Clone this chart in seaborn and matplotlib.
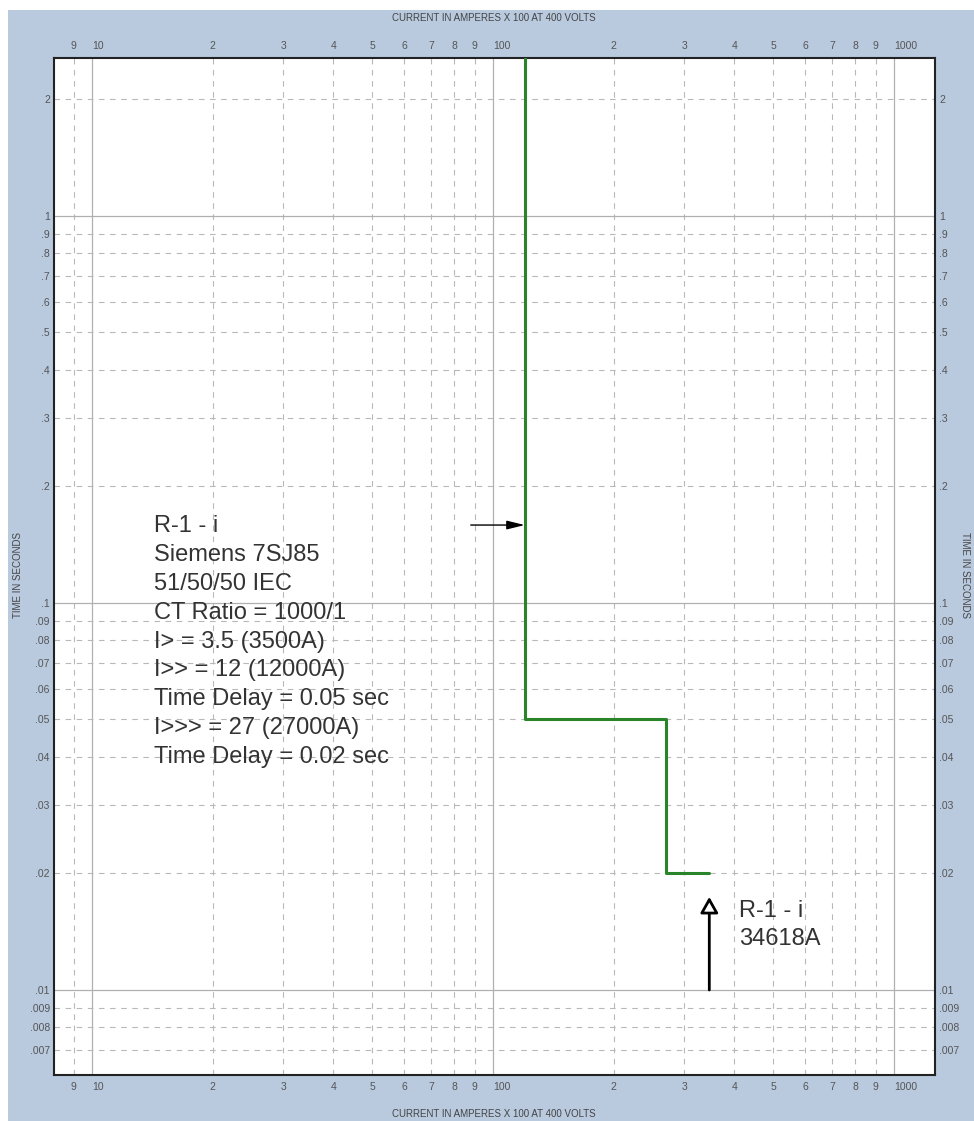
import matplotlib
matplotlib.use("Agg")
import matplotlib.pyplot as plt
import matplotlib.ticker as mticker
from matplotlib.patches import Rectangle
import seaborn as sns

# relay curve R-1 - i (current in A x 100, time in s)
curve_current = [120, 120, 270, 270, 346.18]
curve_time = [10, 0.05, 0.05, 0.02, 0.02]

fault_current = 346.18
fault_label = "R-1 - i\n34618A"

relay_label = [
    "R-1 - i",
    "Siemens 7SJ85",
    "51/50/50 IEC",
    "CT Ratio = 1000/1",
    "I> = 3.5 (3500A)",
    "I>> = 12 (12000A)",
    "Time Delay = 0.05 sec",
    "I>>> = 27 (27000A)",
    "Time Delay = 0.02 sec",
]

x_major = [10, 100, 1000]
x_major_labels = ["10", "100", "1000"]
x_minor = [9] + [m * 10 for m in range(2, 10)] + [m * 100 for m in range(2, 10)]
x_minor_labels = ["9"] + [str(m) for m in range(2, 10)] * 2

y_major = [0.01, 0.1, 1]
y_major_labels = [".01", ".1", "1"]
y_minor = ([0.007, 0.008, 0.009] + [m / 100 for m in range(2, 10)]
           + [m / 10 for m in range(2, 10)] + [2])
y_minor_labels = ([".007", ".008", ".009"] + [".0%d" % m for m in range(2, 10)]
                  + [".%d" % m for m in range(2, 10)] + ["2"])

sns.set_theme(style="white")
plt.rcParams["font.family"] = ["Liberation Sans", "DejaVu Sans"]

W, H = 974, 1121
fig = plt.figure(figsize=(W / 100, H / 100), dpi=100, facecolor="white")
fig.patches.append(Rectangle((8 / W, 0), 1, 1 - 10 / H, transform=fig.transFigure,
                             facecolor="#b9c9de", edgecolor="none", zorder=-10))

ax = fig.add_axes([54 / W, 1 - 1075 / H, (935 - 54) / W, (1075 - 58) / H])
ax.set_facecolor("white")
ax.set_xscale("log")
ax.set_yscale("log")
ax.set_xlim(8.04, 1265)
ax.set_ylim(0.00603, 2.56)

ax.xaxis.set_major_locator(mticker.FixedLocator(x_major))
ax.xaxis.set_major_formatter(mticker.FixedFormatter(x_major_labels))
ax.xaxis.set_minor_locator(mticker.FixedLocator(x_minor))
ax.xaxis.set_minor_formatter(mticker.FixedFormatter(x_minor_labels))
ax.yaxis.set_major_locator(mticker.FixedLocator(y_major))
ax.yaxis.set_major_formatter(mticker.FixedFormatter(y_major_labels))
ax.yaxis.set_minor_locator(mticker.FixedLocator(y_minor))
ax.yaxis.set_minor_formatter(mticker.FixedFormatter(y_minor_labels))

ax.tick_params(axis="both", which="both", length=0, labelsize=7.5, labelcolor="#555555",
               top=True, labeltop=True, right=True, labelright=True)
ax.tick_params(axis="x", which="both", pad=5)
ax.tick_params(axis="y", which="both", pad=3)
# decade labels on the current axis start at their gridline
for lab in ax.xaxis.get_majorticklabels() + [t.label2 for t in ax.xaxis.get_major_ticks()]:
    lab.set_horizontalalignment("left")

ax.grid(True, which="major", color="#b0b0b0", linewidth=0.9, linestyle="-")
ax.grid(True, which="minor", color="#b8b8b8", linewidth=0.8, linestyle=(0, (5, 5)))
ax.set_axisbelow(True)
for spine in ax.spines.values():
    spine.set_color("#222222")
    spine.set_linewidth(1.5)

sns.lineplot(x=curve_current, y=curve_time, sort=False, estimator=None,
             color="#2a852a", linewidth=2.2, ax=ax, zorder=3)

ax.annotate("", xy=(curve_current[0], 0.159), xytext=(88, 0.159),
            arrowprops=dict(arrowstyle="-|>,head_length=0.9,head_width=0.22",
                            color="black", lw=1.0, shrinkA=0, shrinkB=0))
ax.text(0.1135, 0.551, "\n".join(relay_label), transform=ax.transAxes,
        ha="left", va="top", fontsize=17, color="#333333", linespacing=1.41)

ax.annotate("", xy=(fault_current, 0.0174), xytext=(fault_current, 0.01),
            arrowprops=dict(arrowstyle="-|>,head_length=0.8,head_width=0.45",
                            facecolor="white", edgecolor="black", lw=2.0,
                            shrinkA=0, shrinkB=0))
ax.text(410, 0.0171, fault_label, ha="left", va="top", fontsize=17,
        color="#333333", linespacing=1.36)

title = "CURRENT IN AMPERES X 100 AT 400 VOLTS"
fig.text(494 / W, 1 - 18 / H, title, ha="center", va="center", fontsize=7, color="#444444")
fig.text(494 / W, 1 - 1114 / H, title, ha="center", va="center", fontsize=7, color="#444444")
fig.text(18 / W, 1 - 575 / H, "TIME IN SECONDS", ha="center", va="center",
         rotation=90, fontsize=7, color="#444444")
fig.text(965 / W, 1 - 575 / H, "TIME IN SECONDS", ha="center", va="center",
         rotation=270, fontsize=7, color="#444444")

fig.savefig("out.png", dpi=100)
